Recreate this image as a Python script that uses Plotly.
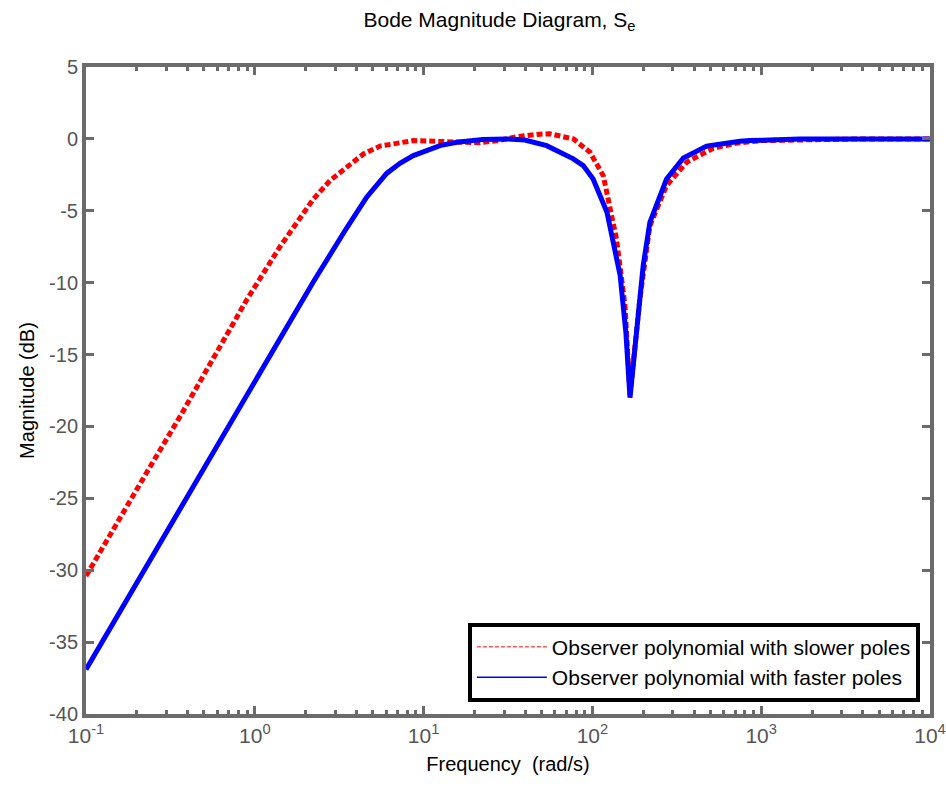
import plotly.graph_objects as go

# Observer polynomial with slower poles (red, dashed)
slow_freq = [0.1, 0.145, 0.229, 0.361, 0.568, 0.895, 1.41, 2.22, 2.79, 3.50,
             4.40, 5.52, 7.08, 8.69, 12.6, 17.8, 21.6, 28.2, 35.5, 49.0,
             56.2, 77.1, 96.8, 116, 122, 139, 156, 167, 191, 219,
             275, 362, 520, 708, 1000, 2000, 4000, 10000]
slow_db = [-30.4, -27.1, -23.2, -19.3, -15.3, -11.2, -7.5, -4.2, -2.9, -1.95,
           -1.05, -0.5, -0.25, -0.12, -0.18, -0.25, -0.27, -0.1, 0.15, 0.33,
           0.35, 0.0, -0.93, -2.56, -3.7, -6.97, -11.6, -17.8, -11.15, -6.04,
           -3.25, -1.62, -0.65, -0.3, -0.12, -0.03, 0.0, 0.0]

# Observer polynomial with faster poles (blue, solid)
fast_freq = [0.1, 0.170, 0.229, 0.361, 0.568, 0.895, 1.41, 2.22, 3.50, 4.60,
             5.77, 6.04, 7.24, 8.69, 12.5, 15.7, 22.4, 31.0, 39.8, 53.6,
             77.1, 88.3, 101, 122, 146, 158, 167, 183, 200, 219,
             275, 346, 475, 748, 859, 1700, 4000, 10000]
fast_db = [-36.9, -32.3, -29.7, -25.8, -21.8, -17.9, -13.9, -9.95, -6.2, -4.06,
           -2.67, -2.4, -1.7, -1.16, -0.47, -0.23, -0.05, 0.0, -0.08, -0.47,
           -1.39, -1.86, -2.79, -5.1, -9.5, -13.5, -18.0, -13.5, -8.8, -5.8,
           -2.79, -1.33, -0.5, -0.17, -0.12, 0.0, 0.0, 0.0]

series_names = ["Observer polynomial with slower poles",
                "Observer polynomial with faster poles"]

x_ticks = [0.1, 1, 10, 100, 1000, 10000]
x_ticktext = ["10<sup>-1</sup>", "10<sup>0</sup>", "10<sup>1</sup>",
              "10<sup>2</sup>", "10<sup>3</sup>", "10<sup>4</sup>"]
y_ticks = [5, 0, -5, -10, -15, -20, -25, -30, -35, -40]

AX = "#6b6b6b"
FONT = "Liberation Sans, Arial, sans-serif"

fig = go.Figure()
fig.add_trace(go.Scatter(x=slow_freq, y=slow_db, mode="lines", showlegend=False,
                         line=dict(color="#ff0000", width=5, dash="6px,3px")))
fig.add_trace(go.Scatter(x=fast_freq, y=fast_db, mode="lines", showlegend=False,
                         line=dict(color="#0000ff", width=5)))
# thin legend entries
fig.add_trace(go.Scatter(x=[None], y=[None], mode="lines", name=series_names[0],
                         line=dict(color="#ff0000", width=1, dash="4px,2px")))
fig.add_trace(go.Scatter(x=[None], y=[None], mode="lines", name=series_names[1],
                         line=dict(color="#0000ff", width=1.5)))

fig.update_layout(
    width=946, height=791,
    margin=dict(l=86, r=16, t=67, b=77),
    paper_bgcolor="white", plot_bgcolor="white",
    font=dict(family=FONT, color="black"),
    title=dict(text="Bode Magnitude Diagram, S<sub>e</sub>", x=0.528, xanchor="center",
               y=0.985, yanchor="top", font=dict(size=21, color="black")),
    legend=dict(x=0.988, y=0.019, xanchor="right", yanchor="bottom",
                bordercolor="black", borderwidth=4, bgcolor="white",
                font=dict(size=21, color="black"), tracegroupgap=0,
                itemwidth=70),
    showlegend=True,
)

fig.update_xaxes(
    type="log", range=[-1, 4], tickvals=x_ticks, ticktext=x_ticktext,
    automargin=False,
    showgrid=False, zeroline=False,
    showline=True, linecolor=AX, linewidth=4, mirror="ticks",
    ticks="inside", ticklen=8, tickwidth=3, tickcolor=AX,
    tickfont=dict(size=21, color="#555555", family=FONT),
    minor=dict(ticks="inside", ticklen=4, tickwidth=3, tickcolor=AX, dtick="D1", showgrid=False),
    title=dict(text="Frequency&nbsp; (rad/s)", font=dict(size=20, color="black"), standoff=12),
)
fig.update_yaxes(
    range=[-40, 5], tickvals=y_ticks, ticktext=[str(v) for v in y_ticks],
    automargin=False,
    showgrid=False, zeroline=False,
    showline=True, linecolor=AX, linewidth=4, mirror="ticks",
    ticks="inside", ticklen=8, tickwidth=3, tickcolor=AX,
    tickfont=dict(size=20, color="#555555", family=FONT),
    title=dict(text="Magnitude (dB)", font=dict(size=20, color="black"), standoff=10),
)

fig.write_html("out.html")
